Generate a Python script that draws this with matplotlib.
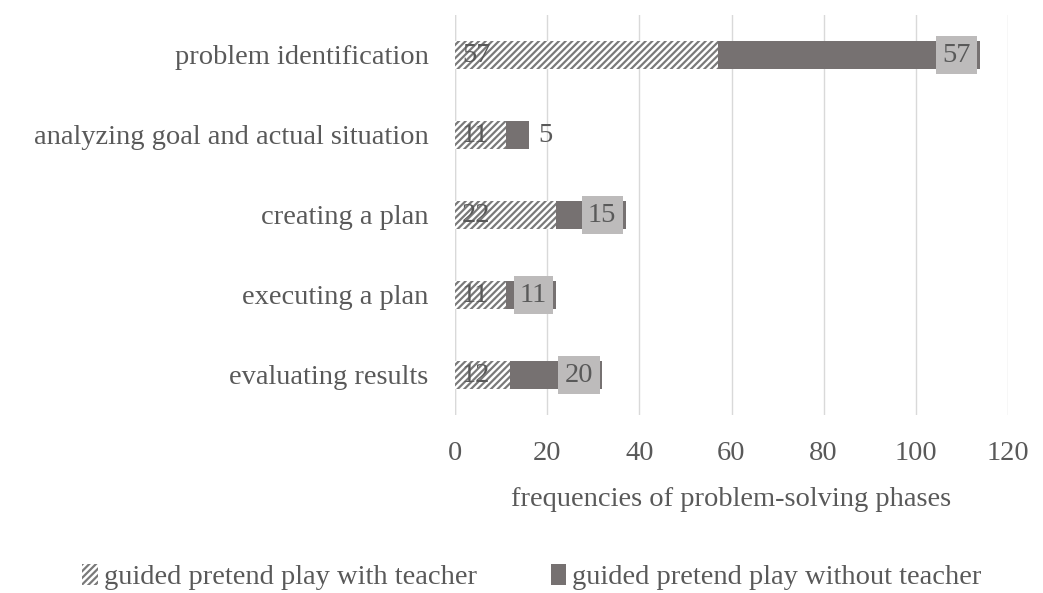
import matplotlib.pyplot as plt
import matplotlib as mpl

mpl.rcParams['hatch.linewidth'] = 1.6

phases = ['problem identification', 'analyzing goal and actual situation',
          'creating a plan', 'executing a plan', 'evaluating results']
with_teacher = [57, 11, 22, 11, 12]
without_teacher = [57, 5, 15, 11, 20]

txt = '#595959'
dark = '#767171'
fam = 'Liberation Serif'
fs = 20.5

fig = plt.figure(figsize=(10.43, 5.93), dpi=100)
ax = fig.add_axes([455 / 1043, 1 - 415 / 593, (1008 - 455) / 1043, 400 / 593])

ypos = list(range(len(phases)))[::-1]
b1 = ax.barh(ypos, with_teacher, height=0.36, color='white', edgecolor='#7a7a7a',
             hatch='/////', linewidth=0, label='guided pretend play with teacher')
b2 = ax.barh(ypos, without_teacher, left=with_teacher, height=0.36, color=dark,
             linewidth=0, label='guided pretend play without teacher')

for y, a, b in zip(ypos, with_teacher, without_teacher):
    ax.text(1.5, y, str(a), va='center', ha='left', fontsize=fs, color=txt, family=fam)
    end = a + b
    if b < 8:
        ax.text(end + 2, y, str(b), va='center', ha='left', fontsize=fs, color=txt, family=fam)
    else:
        ax.text(end - 2, y, str(b), va='center', ha='right', fontsize=fs, color=txt,
                family=fam, bbox=dict(boxstyle='square,pad=0.22', fc='#bdbbbb', ec='none'))

ax.set_xlim(0, 120)
ax.set_ylim(-0.5, 4.5)
ax.set_xticks(range(0, 121, 20))
ax.set_yticks(ypos)
ax.set_yticklabels(phases)
ax.tick_params(length=0, labelsize=fs, labelcolor=txt)
for lab in ax.get_xticklabels() + ax.get_yticklabels():
    lab.set_family(fam)
ax.tick_params(axis='y', pad=19)
ax.tick_params(axis='x', pad=19)
ax.grid(axis='x', color='#d9d9d9', linewidth=1)
ax.set_axisbelow(True)
for s in ax.spines.values():
    s.set_visible(False)
ax.axvline(0, color='#d9d9d9', linewidth=1, zorder=0)
ax.set_xlabel('frequencies of problem-solving phases', fontsize=fs, color=txt,
              family=fam, labelpad=15)

fig.legend(handles=[b1, b2], loc='center', bbox_to_anchor=(0.51, 1 - 577 / 593), ncol=2,
           frameon=False, prop={'family': fam, 'size': fs}, labelcolor=txt,
           handlelength=0.55, handleheight=0.8, handletextpad=0.2, columnspacing=2.6)

fig.savefig('out.png', dpi=100)
